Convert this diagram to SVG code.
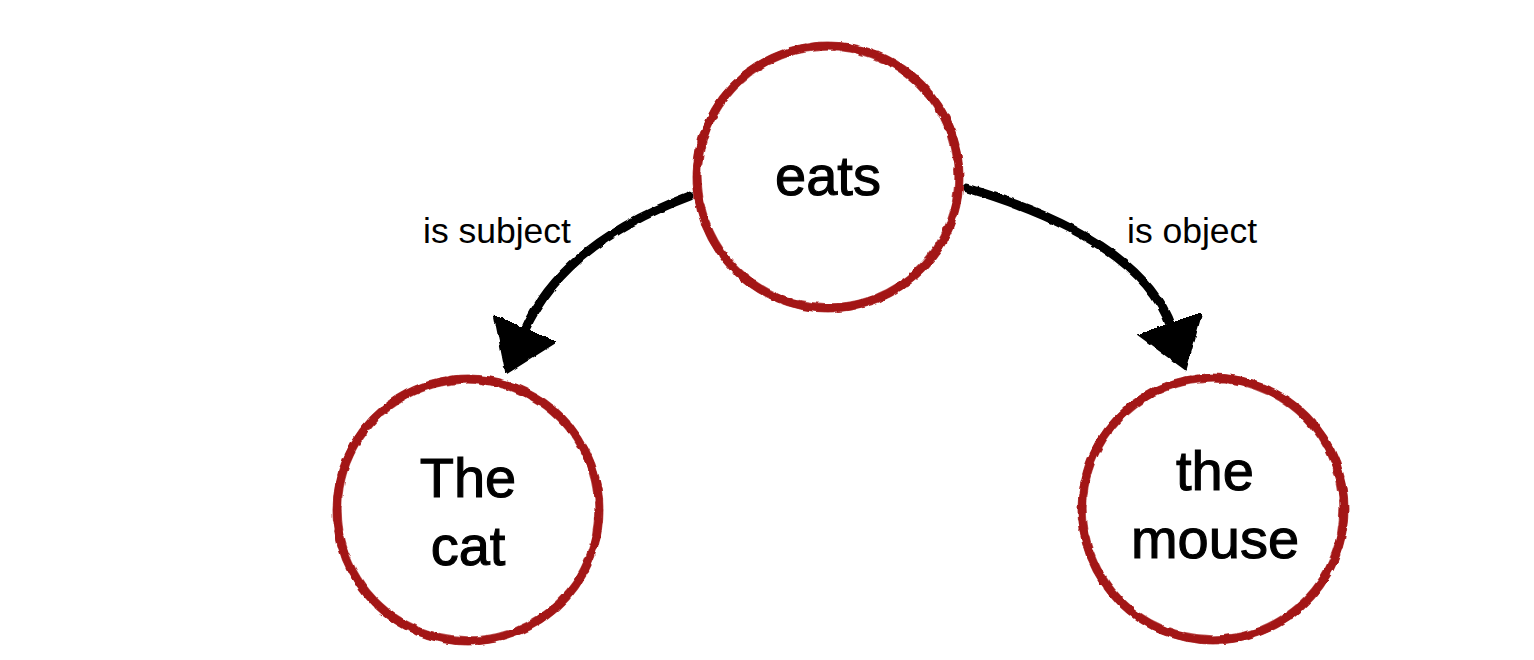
<svg xmlns="http://www.w3.org/2000/svg" width="1534" height="660" viewBox="0 0 1534 660">
  <defs>
    <filter id="rough" filterUnits="userSpaceOnUse" x="0" y="0" width="1534" height="660">
      <feTurbulence type="fractalNoise" baseFrequency="0.09" numOctaves="2" seed="3" result="n"/>
      <feDisplacementMap in="SourceGraphic" in2="n" scale="3.5" xChannelSelector="R" yChannelSelector="G"/>
    </filter>
    <marker id="head" markerUnits="userSpaceOnUse" markerWidth="60" markerHeight="70" refX="4" refY="33" orient="auto">
      <polygon points="0,0 48,33 0,66" fill="#000" stroke="#000" stroke-width="3" stroke-linejoin="round"/>
    </marker>
    <style>
      .ring { fill: none; stroke: #a31414; }
      .main { stroke-width: 8; }
      .hair { stroke-width: 2; stroke-dasharray: 40 6 18 4 60 9; opacity: 0.8; }
      .hair2 { stroke-width: 1.5; stroke-dasharray: 25 8 70 5 12 6; opacity: 0.7; }
      .node-text { font-family: "Liberation Sans", Arial, sans-serif; font-size: 56px; fill: #000; stroke: #000; stroke-width: 1.1; text-anchor: middle; }
      .edge-label { font-family: "Liberation Sans", Arial, sans-serif; font-size: 35.5px; fill: #000; }
      .edge { fill: none; stroke: #000; stroke-width: 9; stroke-linecap: round; }
    </style>
  </defs>
  <rect width="1534" height="660" fill="#fff"/>

  <g id="connectors" filter="url(#rough)">
    <path class="edge" d="M690,196 Q562,244 524,332" marker-end="url(#head)"/>
    <path class="edge" d="M967,188 Q1141,240 1171,327" marker-end="url(#head)"/>
  </g>

  <g id="label-subject">
    <text class="edge-label" x="423" y="243">is subject</text>
  </g>
  <g id="label-object">
    <text class="edge-label" x="1127" y="243">is object</text>
  </g>

  <g id="node-eats">
    <g filter="url(#rough)">
      <circle class="ring main" cx="828" cy="177" r="131"/>
      <circle class="ring hair" cx="828" cy="177" r="134.5"/>
      <circle class="ring hair2" cx="828" cy="177" r="127"/>
    </g>
    <text class="node-text" x="828" y="195">eats</text>
  </g>

  <g id="node-cat">
    <g filter="url(#rough)">
      <circle class="ring main" cx="468" cy="510" r="131"/>
      <circle class="ring hair" cx="468" cy="510" r="134.5"/>
      <circle class="ring hair2" cx="468" cy="510" r="127"/>
    </g>
    <text class="node-text" x="468" y="497">The</text>
    <text class="node-text" x="468" y="565">cat</text>
  </g>

  <g id="node-mouse">
    <g filter="url(#rough)">
      <circle class="ring main" cx="1213" cy="509" r="131"/>
      <circle class="ring hair" cx="1213" cy="509" r="134.5"/>
      <circle class="ring hair2" cx="1213" cy="509" r="127"/>
    </g>
    <text class="node-text" x="1215" y="490">the</text>
    <text class="node-text" x="1215" y="558">mouse</text>
  </g>
</svg>
